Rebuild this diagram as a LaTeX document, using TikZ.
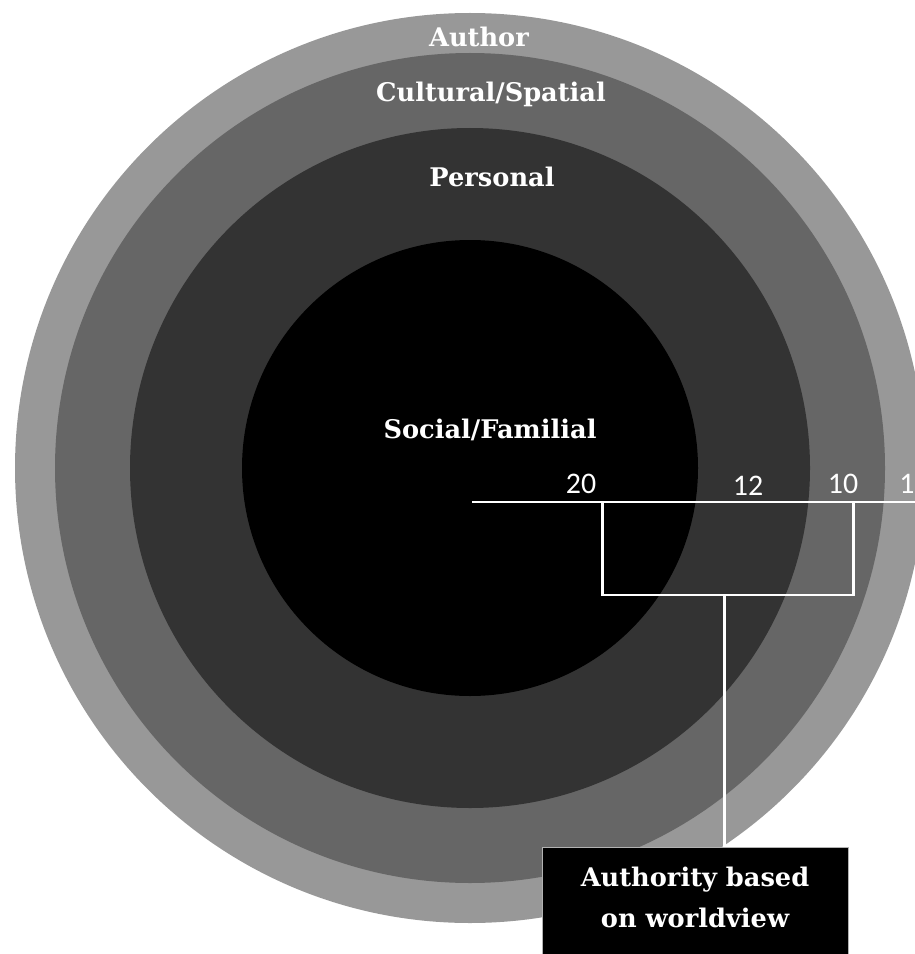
\documentclass[tikz,border=0pt]{standalone}
\usepackage{fontspec}
\setmainfont{DejaVu Serif}
\newfontfamily\numfont{Carlito}
\usepackage{tikz}
\usetikzlibrary{positioning}
\definecolor{ringA}{HTML}{989898}
\definecolor{ringB}{HTML}{666666}
\definecolor{ringC}{HTML}{333333}

\begin{document}
\begin{tikzpicture}[x=0.2mm,y=0.2mm]
\tikzstyle{every node}+=[inner sep=0pt]
\tikzstyle{ringlabel}=[text=white, anchor=base, font=\bfseries\fontsize{14.6}{17}\selectfont]
\tikzstyle{numlabel}=[text=white, anchor=base, font=\numfont\fontsize{17}{20}\selectfont]
\tikzstyle{wline}=[white, line width=1.7pt]
\tikzstyle{wvbox}=[fill=black, draw=gray!60, line width=0.5pt, text=white, align=center,
  minimum width=6.12cm, inner ysep=0.4cm, font=\bfseries\fontsize{14.6}{23.2}\selectfont]
\useasboundingbox (0,0) rectangle (915,-954);
% rings
\coordinate (c) at (470,-468);
\fill [ringA] (c) circle (455);
\fill [ringB] (c) circle (415);
\fill [ringC] (c) circle (340);
\fill [black] (c) circle (228);
\node [ringlabel] (author) at (479,-47) {Author};
\node [ringlabel] (cultural) at (491,-102) {Cultural/Spatial};
\node [ringlabel] (personal) at (492,-187) {Personal};
\node [ringlabel] (social) at (490,-438) {Social/Familial};
% scale line
\coordinate (ax0) at (472,-502);
\coordinate (ax1) at (930,-502);
\coordinate (b20) at (602,-502);
\coordinate (b10) at (853,-502);
\coordinate (stem) at (724,-595);
\draw [wline] (ax0) -- (ax1);
\draw [wline] (b20) -- (b20 |- stem) -- (b10 |- stem) -- (b10);
\node [numlabel] (n20) at (581,-493) {20};
\node [numlabel] (n12) at (748,-495) {12};
\node [numlabel] (n10) at (843,-493) {10};
\node [numlabel, anchor=base west] (n1) at (899,-493) {1};
% worldview box, runs off the bottom
\node [wvbox, anchor=north] (wv) at (695,-847) {Authority based\\on worldview\rule[-9pt]{0pt}{1pt}};
\draw [wline] (stem) -- (stem |- wv.north);
\end{tikzpicture}
\end{document}
